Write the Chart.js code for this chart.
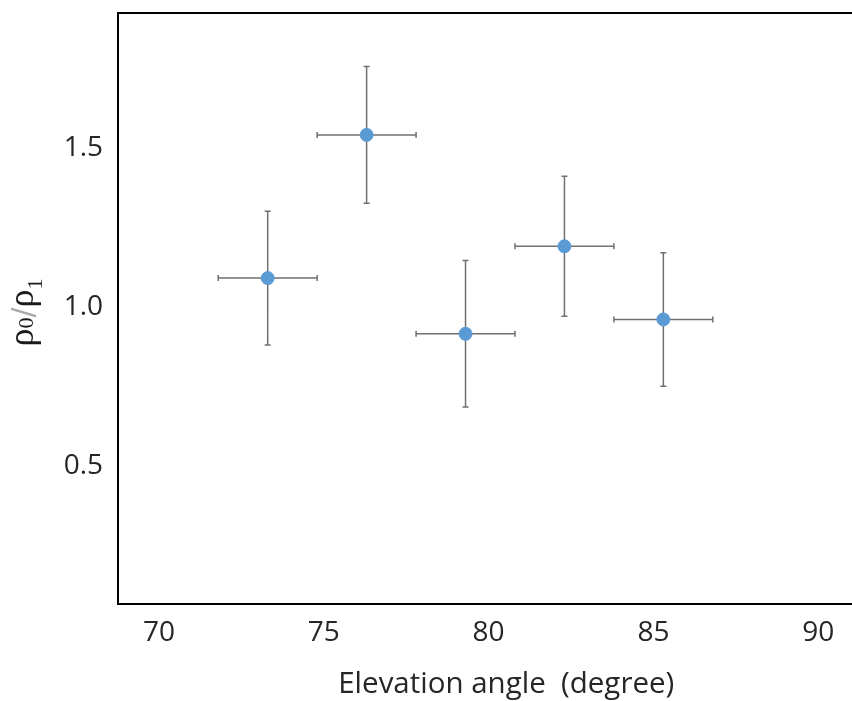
<!DOCTYPE html>
<html>
<head>
<meta charset="utf-8">
<script src="https://cdn.jsdelivr.net/npm/chart.js@4.4.0/dist/chart.umd.min.js"></script>
<style>
html, body { margin: 0; padding: 0; background: #fff; overflow: hidden; }
#wrap { width: 902px; height: 701px; }
</style>
</head>
<body>
<div id="wrap"><canvas id="chart" width="902" height="701"></canvas></div>
<script>
// Data
const elevation = [73.3, 76.3, 79.3, 82.3, 85.3];
const elevationErr = [1.5, 1.5, 1.5, 1.5, 1.5];
const ratio = [1.09, 1.54, 0.915, 1.19, 0.96];
const ratioErr = [0.21, 0.215, 0.23, 0.22, 0.21];
const xTicks = [70, 75, 80, 85, 90];
const yTicks = [0.5, 1.0, 1.5];

const tickFont = { family: '"Open Sans", sans-serif', size: 28 };

// error bars drawn under the points
const errorBars = {
    id: 'errorBars',
    beforeDatasetsDraw(chart) {
        const { ctx, scales: { x, y } } = chart;
        const cap = 3;
        ctx.save();
        ctx.strokeStyle = '#707070';
        ctx.lineWidth = 1.5;
        ctx.beginPath();
        elevation.forEach((ev, i) => {
            const px = x.getPixelForValue(ev);
            const py = y.getPixelForValue(ratio[i]);
            const x0 = x.getPixelForValue(ev - elevationErr[i]);
            const x1 = x.getPixelForValue(ev + elevationErr[i]);
            const y0 = y.getPixelForValue(ratio[i] + ratioErr[i]);
            const y1 = y.getPixelForValue(ratio[i] - ratioErr[i]);
            ctx.moveTo(x0, py); ctx.lineTo(x1, py);
            ctx.moveTo(x0, py - cap); ctx.lineTo(x0, py + cap);
            ctx.moveTo(x1, py - cap); ctx.lineTo(x1, py + cap);
            ctx.moveTo(px, y0); ctx.lineTo(px, y1);
            ctx.moveTo(px - cap, y0); ctx.lineTo(px + cap, y0);
            ctx.moveTo(px - cap, y1); ctx.lineTo(px + cap, y1);
        });
        ctx.stroke();
        ctx.restore();
    }
};

// top edge of the frame + rotated rho0/rho1 label
const frameAndLabel = {
    id: 'frameAndLabel',
    afterDraw(chart) {
        const { ctx, chartArea } = chart;
        ctx.save();
        ctx.strokeStyle = '#000';
        ctx.lineWidth = 2;
        ctx.beginPath();
        ctx.moveTo(chartArea.left - 1, chartArea.top);
        ctx.lineTo(chartArea.right, chartArea.top);
        ctx.stroke();

        const big = '36px "Liberation Serif", serif';
        const small = '22px "Liberation Serif", serif';
        const parts = [
            { t: 'ρ', f: big, dy: 0, c: '#1a1a1a' },
            { t: '0', f: small, dy: 0, c: '#1a1a1a' },
            { t: '/', f: '30px "DejaVu Sans", sans-serif', dy: 0, c: '#aaaaaa' },
            { t: 'ρ', f: big, dy: 0, c: '#1a1a1a' },
            { t: '1', f: small, dy: 9, c: '#1a1a1a' }
        ];
        let total = 0;
        parts.forEach(p => { ctx.font = p.f; p.w = ctx.measureText(p.t).width; total += p.w; });
        ctx.translate(33, (chartArea.top + chartArea.bottom) / 2 + 4);
        ctx.rotate(-Math.PI / 2);
        ctx.textBaseline = 'alphabetic';
        let cx = -total / 2;
        parts.forEach(p => {
            ctx.font = p.f;
            ctx.fillStyle = p.c;
            ctx.fillText(p.t, cx, p.dy);
            cx += p.w;
        });
        ctx.restore();
    }
};

new Chart(document.getElementById('chart'), {
    type: 'scatter',
    data: {
        datasets: [{
            data: elevation.map((v, i) => ({ x: v, y: ratio[i] })),
            backgroundColor: '#5b9bd5',
            borderColor: '#5b9bd5',
            pointRadius: 6.5,
            pointHoverRadius: 6.5
        }]
    },
    options: {
        responsive: false,
        animation: false,
        layout: { padding: { top: 13, right: 0, left: 0, bottom: 0 } },
        plugins: { legend: { display: false }, tooltip: { enabled: false } },
        scales: {
            x: {
                type: 'linear',
                min: 68.76,
                max: 92.31,
                afterBuildTicks: s => { s.ticks = xTicks.map(v => ({ value: v })); },
                afterFit: s => { s.height = 97; s.paddingLeft = 0; s.paddingRight = 0; },
                grid: { display: false, drawTicks: false },
                border: { display: true, color: '#000', width: 2 },
                ticks: { color: '#262626', font: tickFont, padding: 12, maxRotation: 0 },
                title: {
                    display: true,
                    text: 'Elevation angle  (degree)',
                    color: '#262626',
                    font: { family: '"Open Sans", sans-serif', size: 29.5, lineHeight: 1.1 },
                    padding: 0
                }
            },
            y: {
                type: 'linear',
                min: 0.066,
                max: 1.923,
                afterBuildTicks: s => { s.ticks = yTicks.map(v => ({ value: v })); },
                afterFit: s => { s.width = 118; s.paddingTop = 0; s.paddingBottom = 0; },
                grid: { display: false, drawTicks: false },
                border: { display: true, color: '#000', width: 2 },
                ticks: {
                    color: '#262626',
                    font: tickFont,
                    padding: 15,
                    callback: v => v.toFixed(1)
                }
            }
        }
    },
    plugins: [errorBars, frameAndLabel]
});
</script>
</body>
</html>
